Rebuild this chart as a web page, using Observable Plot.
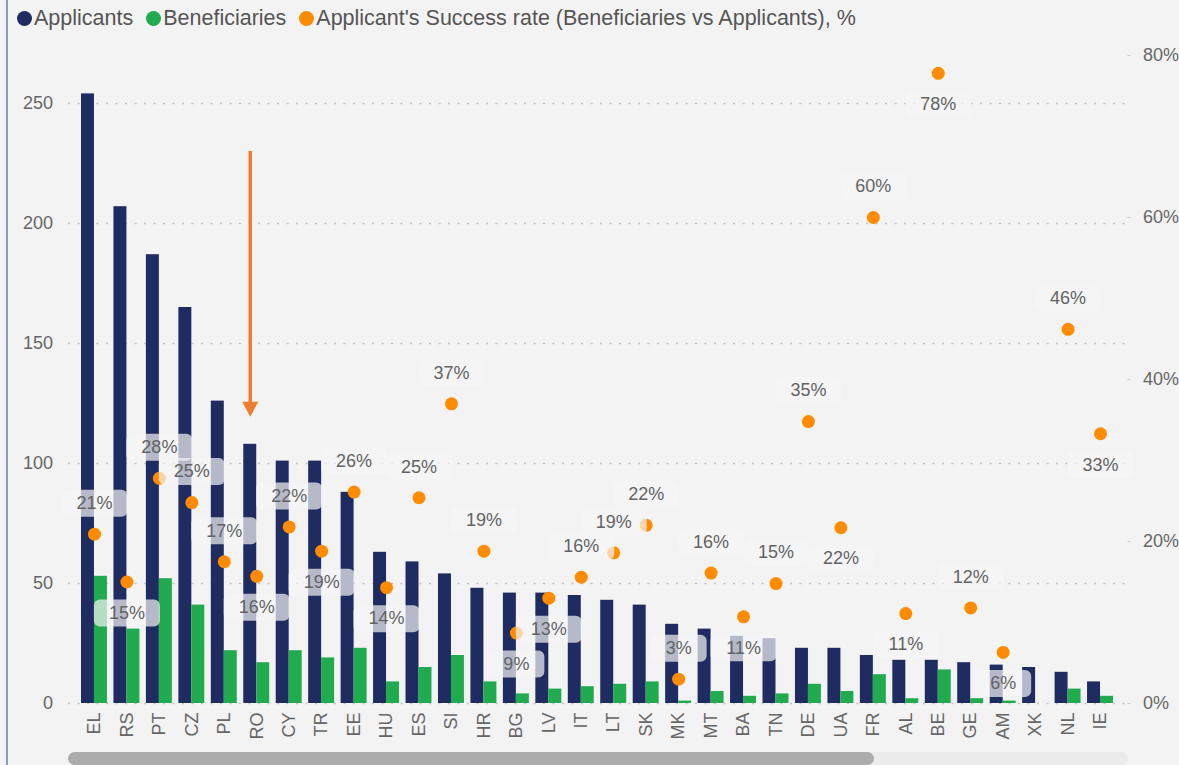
<!DOCTYPE html>
<html><head><meta charset="utf-8">
<script src="https://cdn.jsdelivr.net/npm/d3@7"></script>
<script src="https://cdn.jsdelivr.net/npm/@observablehq/plot@0.6"></script>
<style>
html,body{margin:0;padding:0;background:#f3f3f3;}
body{width:1179px;height:765px;overflow:hidden;position:relative;font-family:"Liberation Sans",Arial,sans-serif;}
#frame{position:absolute;left:6px;top:0;width:1.5px;height:765px;background:#8f9bbd;}
#legend{height:36px;display:flex;align-items:center;padding-left:17px;font-size:21.5px;color:#555;}
.item{display:flex;align-items:center;margin-right:13px;}
.sw{width:15px;height:15px;border-radius:50%;margin-right:2px;}
#chart svg{display:block}
#scroll{position:absolute;left:68px;top:752px;width:1060px;height:13px;background:#ebebeb;border-radius:7px;}
#thumb{position:absolute;left:0;top:0;width:806px;height:13px;background:#acacac;border-radius:7px;}
</style></head>
<body>
<div id="frame"></div>
<div id="legend"></div>
<div id="chart"></div>
<div id="scroll"><div id="thumb"></div></div>
<script>
const countries = ["EL","RS","PT","CZ","PL","RO","CY","TR","EE","HU","ES","SI","HR","BG","LV","IT","LT","SK","MK","MT","BA","TN","DE","UA","FR","AL","BE","GE","AM","XK","NL","IE"];
const applicants = [254,207,187,165,126,108,101,101,88,63,59,54,48,46,46,45,43,41,33,31,28,27,23,23,20,18,18,17,16,15,13,9];
const beneficiaries = [53,31,52,41,22,17,22,19,23,9,15,20,9,4,6,7,8,9,1,5,3,4,8,5,12,2,14,2,1,0,6,3];
const successRate = [20.9,15.0,27.8,24.8,17.5,15.7,21.8,18.8,26.1,14.3,25.4,37.0,18.8,8.7,13.0,15.6,18.6,22.0,3.0,16.1,10.7,14.8,34.8,21.7,60.0,11.1,77.8,11.8,6.3,null,46.2,33.3];
const rateLabels = ["21%","15%","28%","25%","17%","16%","22%","19%","26%","14%","25%","37%","19%","9%","13%","16%","19%","22%","3%","16%","11%","15%","35%","22%","60%","11%","78%","12%","6%","","46%","33%"];
const labelsBelow = ["RS","RO","TR","HU","BG","LV","BA","UA","AL","BE","AM","IE"];
const seriesNames = ["Applicants","Beneficiaries","Applicant's Success rate (Beneficiaries vs Applicants), %"];
const seriesColors = ["#1f2c61","#21ab4f","#ff8c00"];
const leftTicks = [0,50,100,150,200,250];
const rightTicks = [0,20,40,60,80];
const arrowNote = [{country:"RO", from:230, to:119.5}];

// legend
const lg = document.getElementById("legend");
seriesNames.forEach((n,i)=>{
  const it = document.createElement("div"); it.className="item";
  const sw = document.createElement("div"); sw.className="sw"; sw.style.background=seriesColors[i];
  const tx = document.createElement("span"); tx.textContent=n;
  it.appendChild(sw); it.appendChild(tx); lg.appendChild(it);
});

const K = 270/80; // % on right axis -> left-axis units
const rows = countries.map((c,i)=>({country:c, applicants:applicants[i], beneficiaries:beneficiaries[i], rate:successRate[i], label:rateLabels[i], below:labelsBelow.includes(c)}));
const rated = rows.filter(d=>d.rate!=null);

const W=1179, H=712, ML=74.5, MR=59.5, PAD=0.2;
const bw = (W-ML-MR)/(countries.length+PAD)*(1-PAD);

function roundRect(w,h,r){
  return {draw(ctx){
    const x0=-w/2,y0=-h/2,x1=w/2,y1=h/2;
    ctx.moveTo(x0+r,y0); ctx.lineTo(x1-r,y0); ctx.arcTo(x1,y0,x1,y0+r,r);
    ctx.lineTo(x1,y1-r); ctx.arcTo(x1,y1,x1-r,y1,r);
    ctx.lineTo(x0+r,y1); ctx.arcTo(x0,y1,x0,y1-r,r);
    ctx.lineTo(x0,y0+r); ctx.arcTo(x0,y0,x0+r,y0,r); ctx.closePath();
  }};
}
const headDown = {draw(ctx){ctx.moveTo(-8,-15);ctx.lineTo(8,-15);ctx.lineTo(0,0);ctx.closePath();}};
const boxWide = roundRect(66,27,6), boxNarrow = roundRect(56,27,6);
const OFF = 31;
const yr = d => d.rate*K;

function boxes(below, wide){
  return Plot.dot(rated.filter(d=>d.below===below && (d.label.length>2)===wide),
    {x:"country", y:yr, symbol: wide?boxWide:boxNarrow, fill:"#f5f5f7", fillOpacity:0.7, stroke:"none", dy: below?OFF:-OFF});
}
function labels(below){
  return Plot.text(rated.filter(d=>d.below===below),
    {x:"country", y:yr, text:"label", dy: below?OFF:-OFF, fill:"#636363", fontSize:18});
}

const chart = Plot.plot({
  width:W, height:H, marginLeft:ML, marginRight:MR, marginTop:19, marginBottom:45,
  style:{background:"transparent", fontFamily:'"Liberation Sans", Arial, sans-serif', fontSize:"18px", color:"#666", overflow:"visible"},
  x:{type:"band", domain:countries, padding:PAD, round:false},
  y:{domain:[0,270]},
  marks:[
    Plot.ruleY(leftTicks,{stroke:"#c2c2c2", strokeWidth:1.5, strokeDasharray:"2,7.5", insetLeft:-6.5, insetRight:-5.5}),
    Plot.barY(rows,{x:"country", y:"applicants", fill:seriesColors[0], insetRight:bw/2}),
    Plot.barY(rows,{x:"country", y:"beneficiaries", fill:seriesColors[1], insetLeft:bw/2}),
    Plot.dot(rated,{x:"country", y:yr, r:6.5, fill:seriesColors[2], stroke:"none"}),
    boxes(false,true), boxes(false,false), boxes(true,true), boxes(true,false),
    labels(false), labels(true),
    Plot.ruleX(arrowNote,{x:"country", y1:"from", y2:d=>d.to+5, dx:-bw/4, stroke:"#ed7d31", strokeWidth:3.5}),
    Plot.dot(arrowNote,{x:"country", y:"to", dx:-bw/4, symbol:headDown, fill:"#ed7d31", stroke:"none"}),
    Plot.axisY(leftTicks,{anchor:"left", tickSize:0, tickPadding:22, label:null}),
    Plot.axisY(rightTicks.map(t=>t*K),{anchor:"right", tickFormat:v=>Math.round(v/K)+"%", tickSize:3, dx:7, tickPadding:13, stroke:"#cccccc", label:null}),
    Plot.axisX({tickRotate:-90, tickSize:0, tickPadding:9, label:null})
  ]
});
document.getElementById("chart").appendChild(chart);
</script>
</body></html>
